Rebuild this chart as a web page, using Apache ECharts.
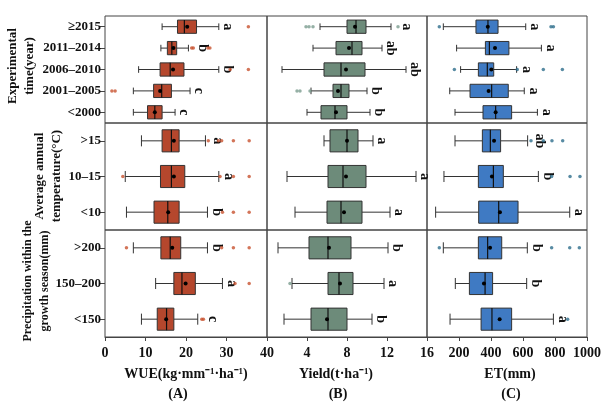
<!DOCTYPE html>
<html><head><meta charset="utf-8">
<script src="https://cdn.jsdelivr.net/npm/echarts@6/dist/echarts.min.js"></script>
<style>html,body{margin:0;padding:0;background:#fff}#c{width:616px;height:404px}</style>
</head><body><div id="c"></div>
<script>
const timeCats = ['≥2015','2011–2014','2006–2010','2001–2005','<2000'];
const tempCats = ['>15','10–15','<10'];
const precipCats = ['>200','150–200','<150'];

// rows: time(5), temperature(3), precipitation(3)
// [lower whisker, Q1, median, Q3, upper whisker, mean]
const wueBox = [
 [14.1,17.9,19.6,22.6,28.1,20.3],
 [13.8,15.4,16.5,17.7,20.6,16.9],
 [8.3,13.6,16.1,19.5,28.1,16.8],
 [7.0,12.0,14.0,16.4,21.0,13.6],
 [7.0,10.5,12.3,14.1,17.3,12.3],
 [9.0,14.1,16.4,18.3,24.8,17.0],
 [5.0,13.7,16.4,19.7,28.1,17.0],
 [5.3,12.1,15.5,18.3,25.3,15.6],
 [7.0,13.8,16.1,18.7,25.3,16.6],
 [12.5,17.0,19.0,22.3,29.0,19.9],
 [9.0,12.9,15.2,17.0,22.9,15.1]
];
const wueOut = [[35.4],[21.4,21.8,25.4,25.9],[30.9,35.4],[1.7,2.5],[],[25.5,28.0,28.8,31.7,35.6],[4.4,28.4,31.7,35.6],[29.0,31.7,35.6],[5.3,28.8,31.7,35.6],[32.1,35.6],[23.9,24.3]];
const wueLetters = ['a','b','b','c','c','a','a','b','b','a','c'];

const yieldBox = [
 [5.3,8.0,8.9,9.9,12.4,8.8],
 [4.6,6.9,8.5,9.5,11.5,8.2],
 [1.5,5.7,7.4,9.8,13.9,7.9],
 [4.4,6.6,7.4,8.2,10.0,7.1],
 [4.0,5.4,6.8,8.0,10.3,6.9],
 [5.7,6.3,8.0,9.1,10.6,8.0],
 [2.0,6.1,7.6,9.9,14.9,7.9],
 [2.8,6.0,7.4,9.5,12.3,7.7],
 [1.1,4.2,6.1,8.4,12.1,6.2],
 [2.5,6.1,7.2,8.6,11.7,7.3],
 [1.7,4.4,6.1,8.0,10.5,6.0]
];
const yieldOut = [[3.9,4.2,4.6,13.1],[],[],[3.0,3.3,4.3],[],[],[],[],[],[2.3],[]];
const yieldLetters = ['a','ab','ab','b','b','a','a','a','b','a','b'];

const etBox = [
 [102,306,381,444,617,380],
 [185,365,390,512,715,425],
 [210,321,377,417,560,402],
 [142,269,404,508,608,385],
 [175,350,429,529,690,429],
 [175,346,396,460,629,419],
 [106,321,415,477,696,406],
 [54,323,448,569,892,456],
 [102,321,379,467,627,394],
 [177,265,363,410,623,356],
 [144,338,406,529,790,454]
];
const etOut = [[77,775,790],[],[171,564,727,846],[],[],[650,727,781,848],[779,894,956],[],[77,779,892,952],[],[879]];
const etLetters = ['a','a','a','a','a','ab','b','a','b','b','a'];

const xTicksWUE = [0,40,10];
const xTicksYield = [0,16,4];
const xTicksET = [0,1000,200];

const FONT = '"Liberation Serif","Times New Roman",serif';
const groups = [timeCats, tempCats, precipCats];
const panels = [
 {box: wueBox, out: wueOut, letters: wueLetters, ticks: xTicksWUE, fill:'#B5472D', outColor:'#C8522F'},
 {box: yieldBox, out: yieldOut, letters: yieldLetters, ticks: xTicksYield, fill:'#6D8B7A', outColor:'#7A9C8E'},
 {box: etBox, out: etOut, letters: etLetters, ticks: xTicksET, fill:'#3F7AC3', outColor:'#2E6E8C'}
];
const lefts = [105,267,427], widths = [162,160,160], tops = [16,123,230], H = 107;

const grid = [], xAxis = [], yAxis = [], series = [];
let offset = 0;
groups.forEach((cats, r) => {
  const off = offset;
  panels.forEach((P, c) => {
    const idx = r*3 + c;
    grid.push({left: lefts[c], top: tops[r], width: widths[c], height: H, show: true,
      borderColor: '#444', borderWidth: 1, backgroundColor: 'transparent'});
    xAxis.push({gridIndex: idx, type: 'value', min: P.ticks[0], max: P.ticks[1], interval: P.ticks[2],
      axisLine: {show: r === 2, lineStyle: {color: '#444', width: 1}},
      axisTick: {show: r === 2, length: 4, lineStyle: {color: '#444'}},
      splitLine: {show: false},
      axisLabel: {show: r === 2, fontFamily: FONT, fontWeight: 'bold', fontSize: 14, color: '#111', margin: 9,
        showMinLabel: true, showMaxLabel: true, hideOverlap: false,
        formatter: v => (c > 0 && v === 0) ? '' : String(v)}});
    yAxis.push({gridIndex: idx, type: 'category', data: cats, inverse: true,
      axisLine: {show: false},
      axisTick: {show: c === 0, length: 5, alignWithLabel: true, lineStyle: {color: '#444'}},
      splitLine: {show: false},
      axisLabel: {show: c === 0, fontFamily: FONT, fontWeight: 'bold', fontSize: 13, color: '#111', margin: 4}});
    const rows = cats.map((_, i) => [i].concat(P.box[off + i]));
    series.push({
      type: 'custom', xAxisIndex: idx, yAxisIndex: idx, data: rows,
      encode: {x: [1,2,3,4,5,6], y: 0},
      renderItem: function (params, api) {
        const ci = api.value(0);
        const px = v => api.coord([v, ci])[0];
        const y = api.coord([api.value(3), ci])[1];
        const band = api.size([0, 1])[1];
        const h = band * 0.62;
        const xLo = px(api.value(1)), xQ1 = px(api.value(2)), xMed = px(api.value(3)),
              xQ3 = px(api.value(4)), xHi = px(api.value(5)), xMean = px(api.value(6));
        const lineStyle = {stroke: '#333', lineWidth: 1};
        let anchor = xHi;
        const outs = P.out[off + params.dataIndex].slice().sort((a, b) => a - b);
        outs.forEach(o => { const p = px(o); if (p > anchor && p - anchor < 9) anchor = p; });
        return {type: 'group', children: [
          {type: 'line', shape: {x1: xLo, y1: y, x2: xQ1, y2: y}, style: lineStyle},
          {type: 'line', shape: {x1: xQ3, y1: y, x2: xHi, y2: y}, style: lineStyle},
          {type: 'line', shape: {x1: xLo, y1: y - h/4, x2: xLo, y2: y + h/4}, style: lineStyle},
          {type: 'line', shape: {x1: xHi, y1: y - h/4, x2: xHi, y2: y + h/4}, style: lineStyle},
          {type: 'rect', shape: {x: xQ1, y: y - h/2, width: xQ3 - xQ1, height: h},
            style: {fill: P.fill, stroke: '#333', lineWidth: 1}},
          {type: 'line', shape: {x1: xMed, y1: y - h/2, x2: xMed, y2: y + h/2}, style: {stroke: '#111', lineWidth: 1.2}},
          {type: 'circle', shape: {cx: xMean, cy: y, r: 2}, style: {fill: '#000'}},
          {type: 'text', x: anchor + 2, y: y, rotation: -Math.PI/2,
            style: {text: P.letters[off + params.dataIndex], fill: '#111',
              font: 'bold 14px ' + FONT, align: 'center', verticalAlign: 'bottom'}}
        ]};
      },
      z: 2
    });
    const pts = [];
    cats.forEach((_, i) => P.out[off + i].forEach(v => pts.push([v, i])));
    series.push({type: 'scatter', xAxisIndex: idx, yAxisIndex: idx, data: pts,
      symbol: 'circle', symbolSize: 3.5, itemStyle: {color: P.outColor}, z: 3, silent: true});
  });
  offset += cats.length;
});

const tStyle = (text, size) => ({text, fill: '#111', font: 'bold ' + size + 'px ' + FONT,
  align: 'center', verticalAlign: 'middle', lineHeight: 17});
const graphic = [
  {type: 'text', x: 21, y: 66, rotation: Math.PI/2, style: tStyle('Experimental\ntime(year)', 13)},
  {type: 'text', x: 48, y: 176, rotation: Math.PI/2, style: tStyle('Average annual\ntemperature(°C)', 13)},
  {type: 'text', x: 36, y: 281, rotation: Math.PI/2, style: tStyle('Precipitation within the\ngrowth season(mm)', 12)},
  {type: 'text', x: 186, y: 374, style: tStyle('WUE(kg·mm⁻¹·ha⁻¹)', 14)},
  {type: 'text', x: 336, y: 374, style: tStyle('Yield(t·ha⁻¹)', 14)},
  {type: 'text', x: 510, y: 374, style: tStyle('ET(mm)', 14)},
  {type: 'text', x: 178, y: 394, style: tStyle('(A)', 14)},
  {type: 'text', x: 338, y: 394, style: tStyle('(B)', 14)},
  {type: 'text', x: 511, y: 394, style: tStyle('(C)', 14)}
];

const chart = echarts.init(document.getElementById('c'), null, {renderer: 'canvas'});
chart.setOption({animation: false, backgroundColor: '#fff', grid, xAxis, yAxis, series, graphic});
</script></body></html>
